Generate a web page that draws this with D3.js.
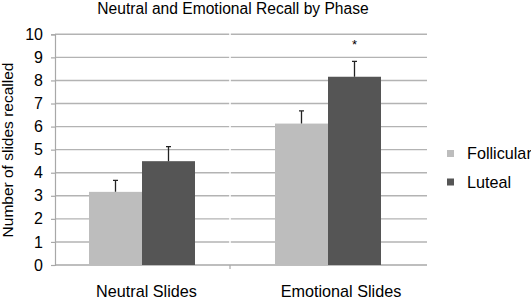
<!DOCTYPE html>
<html>
<head>
<meta charset="utf-8">
<script src="https://cdn.jsdelivr.net/npm/d3@7"></script>
<style>
body { margin: 0; background: #fff; }
text { font-family: "Liberation Sans", Arial, sans-serif; fill: #000; }
</style>
</head>
<body>
<div id="chart"></div>
<script>
// data
const categories = ["Neutral Slides", "Emotional Slides"];
const seriesNames = ["Follicular", "Luteal"];
const follicular = [3.17, 6.13];
const luteal = [4.5, 8.16];
const follicularErr = [0.5, 0.55];
const lutealErr = [0.63, 0.67];
const yTicks = [0, 1, 2, 3, 4, 5, 6, 7, 8, 9, 10];
const starred = [false, true];

const TITLE = "Neutral and Emotional Recall by Phase";
const Y_LABEL = "Number of slides recalled";

const colors = ["#bdbdbd", "#555555"];

const svgWidth = 531, svgHeight = 299;
const plot = { left: 55, right: 427, top: 34.3, bottom: 265 };

const svg = d3.select("#chart").append("svg")
  .attr("width", svgWidth)
  .attr("height", svgHeight);

const rows = categories.map((c, i) => ({
  cat: c,
  vals: [
    { s: seriesNames[0], v: follicular[i], e: follicularErr[i] },
    { s: seriesNames[1], v: luteal[i], e: lutealErr[i] }
  ],
  star: starred[i]
}));

// scales
const scaleX = d3.scaleBand()
  .domain(categories)
  .range([plot.left, plot.right])
  .padding(0);

const scaleY = d3.scaleLinear()
  .domain([0, 10])
  .range([plot.bottom, plot.top]);

const groupShift = -6;   // bars sit a bit left of band centre in the original
const barW = 53;
const scaleS = d3.scaleBand()
  .domain(seriesNames)
  .range([-barW, barW]);

// title
svg.append("text")
  .attr("x", 233)
  .attr("y", 13.5)
  .attr("text-anchor", "middle")
  .attr("font-size", 15.6)
  .text(TITLE);

// gridlines (gap at category boundary)
const divX = 230;
const grid = svg.append("g");
yTicks.filter(t => t > 0).forEach(t => {
  grid.append("line")
    .attr("x1", plot.left).attr("x2", divX - 0.8)
    .attr("y1", scaleY(t)).attr("y2", scaleY(t))
    .attr("stroke", "#b3b3b3").attr("stroke-width", 1.4);
  grid.append("line")
    .attr("x1", divX + 0.8).attr("x2", plot.right)
    .attr("y1", scaleY(t)).attr("y2", scaleY(t))
    .attr("stroke", "#b3b3b3").attr("stroke-width", 1.4);
});

// y axis
const yAxis = svg.append("g")
  .attr("transform", `translate(${plot.left},0)`)
  .call(d3.axisLeft(scaleY).tickValues(yTicks).tickSize(4).tickPadding(8));
yAxis.select(".domain").attr("stroke", "#a8a8a8").attr("stroke-width", 1.2);
yAxis.selectAll(".tick line").attr("stroke", "#a8a8a8").attr("stroke-width", 1.2);
yAxis.selectAll(".tick text")
  .attr("font-size", 16)
  .attr("font-family", "Liberation Sans, Arial, sans-serif")
  .attr("fill", "#000");

svg.append("text")
  .attr("transform", "rotate(-90)")
  .attr("x", -150)
  .attr("y", 13)
  .attr("text-anchor", "middle")
  .attr("font-size", 15.5)
  .text(Y_LABEL);

// bottom axis line + divider tick
svg.append("line")
  .attr("x1", plot.left).attr("x2", plot.right)
  .attr("y1", plot.bottom).attr("y2", plot.bottom)
  .attr("stroke", "#a8a8a8").attr("stroke-width", 1.4);
svg.append("line")
  .attr("x1", divX).attr("x2", divX)
  .attr("y1", plot.bottom).attr("y2", plot.bottom + 4)
  .attr("stroke", "#a8a8a8").attr("stroke-width", 1.2);

// category labels
svg.selectAll(".cat-label")
  .data(categories)
  .enter().append("text")
  .attr("class", "cat-label")
  .attr("x", (d, i) => scaleX(d) + scaleX.bandwidth() / 2 + (i === 1 ? 7 : -1.5))
  .attr("y", 297)
  .attr("text-anchor", "middle")
  .attr("font-size", 16.2)
  .text(d => d);

// bars
const groups = svg.selectAll(".grp")
  .data(rows)
  .enter().append("g")
  .attr("class", "grp")
  .attr("transform", d => `translate(${scaleX(d.cat) + scaleX.bandwidth() / 2 + groupShift},0)`);

groups.selectAll("rect")
  .data(d => d.vals)
  .enter().append("rect")
  .attr("x", d => scaleS(d.s))
  .attr("y", d => scaleY(d.v))
  .attr("width", scaleS.bandwidth())
  .attr("height", d => scaleY(0) - scaleY(d.v))
  .attr("fill", (d, i) => colors[i]);

// error bars (upper only)
groups.selectAll(".err")
  .data(d => d.vals)
  .enter().append("path")
  .attr("class", "err")
  .attr("d", d => {
    const cx = scaleS(d.s) + scaleS.bandwidth() / 2;
    const y0 = scaleY(d.v), y1 = scaleY(d.v + d.e);
    return `M${cx},${y0}V${y1}M${cx - 2.5},${y1}H${cx + 2.5}`;
  })
  .attr("fill", "none")
  .attr("stroke", "#222")
  .attr("stroke-width", 1.3);

// significance marker
groups.filter(d => d.star).append("text")
  .attr("x", scaleS(seriesNames[1]) + scaleS.bandwidth() / 2)
  .attr("y", d => scaleY(d.vals[1].v + d.vals[1].e) - 12)
  .attr("text-anchor", "middle")
  .attr("font-size", 13)
  .text("*");

// legend
const legend = svg.selectAll(".legend")
  .data(seriesNames)
  .enter().append("g")
  .attr("class", "legend")
  .attr("transform", (d, i) => `translate(447,${153.5 + i * 28.5})`);

legend.append("rect")
  .attr("x", 0).attr("y", -3.5)
  .attr("width", 7).attr("height", 7)
  .attr("fill", (d, i) => colors[i]);

legend.append("text")
  .attr("x", 20)
  .attr("y", 0)
  .attr("dy", "0.35em")
  .attr("font-size", 16.2)
  .text(d => d);
</script>
</body>
</html>
